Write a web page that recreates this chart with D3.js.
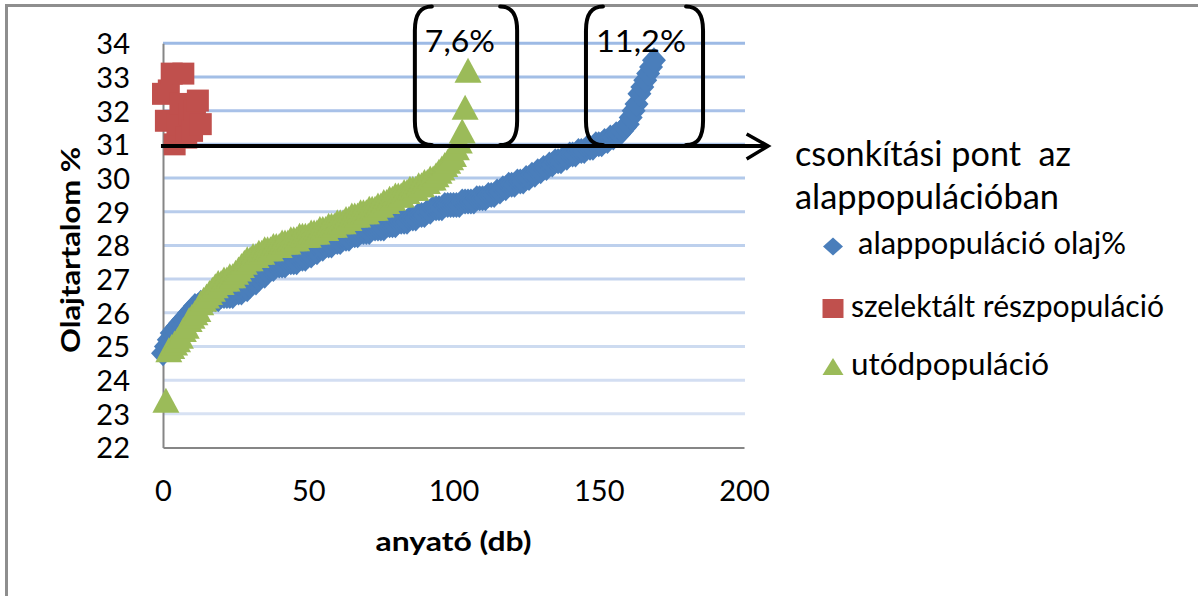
<!DOCTYPE html>
<html><head><meta charset="utf-8">
<script src="https://cdn.jsdelivr.net/npm/d3@7"></script>
<style>
body{margin:0;background:#fff}
svg{display:block}
text{font-family:Lato,"Open Sans",sans-serif;fill:#000}
</style>
</head><body>
<svg id="c" width="1198" height="596"></svg>
<script>
// ---- data ----
const yTicks = [22,23,24,25,26,27,28,29,30,31,32,33,34];
const xTicks = [0,50,100,150,200];
const seriesNames = ["alappopuláció olaj%","szelektált részpopuláció","utódpopuláció"];
const noteLines = ["csonkítási pont  az","alappopulációban"];
const bracketLabels = ["7,6%","11,2%"];
const truncationPoint = 30.95;
// alappopuláció olaj% (x = 0..169)
const blueValues = [
24.8,25.0,25.2,25.4,25.5,25.6,25.7,25.8,25.9,26.0,
26.1,26.2,26.2,26.3,26.3,26.3,26.4,26.4,26.4,26.4,
26.5,26.5,26.5,26.5,26.5,26.6,26.6,26.6,26.7,26.7,
26.8,26.9,26.9,27.0,27.1,27.1,27.2,27.3,27.3,27.4,
27.4,27.4,27.4,27.5,27.5,27.5,27.5,27.6,27.6,27.6,
27.7,27.7,27.8,27.8,27.9,27.9,28.0,28.0,28.0,28.1,
28.1,28.1,28.2,28.2,28.2,28.3,28.3,28.3,28.4,28.4,
28.4,28.4,28.5,28.5,28.5,28.5,28.5,28.6,28.6,28.6,
28.6,28.7,28.7,28.7,28.7,28.8,28.8,28.8,28.9,28.9,
28.9,29.0,29.0,29.1,29.1,29.1,29.1,29.2,29.2,29.2,
29.2,29.2,29.2,29.3,29.3,29.3,29.3,29.3,29.4,29.4,
29.4,29.4,29.5,29.5,29.5,29.6,29.6,29.7,29.7,29.8,
29.8,29.8,29.9,29.9,29.9,30.0,30.0,30.1,30.1,30.2,
30.2,30.3,30.3,30.4,30.4,30.5,30.5,30.5,30.6,30.6,
30.7,30.7,30.7,30.8,30.8,30.8,30.9,30.9,30.9,31.0,
31.0,31.0,31.1,31.1,31.2,31.2,31.3,31.3,31.4,31.5,
31.6,31.8,32.0,32.2,32.5,32.7,32.9,33.1,33.3,33.5];
// szelektált részpopuláció (x = 0..13)
const redValues = [32.5,31.7,32.6,33.1,31.0,31.6,32.2,33.1,31.2,31.9,31.4,32.0,32.3,31.6];
// utódpopuláció (x = 1..105)
const greenValues = [
23.4,24.9,25.0,25.1,25.2,25.3,25.5,25.6,25.8,25.9,
26.0,26.1,26.3,26.4,26.5,26.6,26.7,26.8,26.9,26.9,
27.0,27.0,27.1,27.1,27.2,27.3,27.4,27.5,27.6,27.6,
27.7,27.7,27.8,27.8,27.9,27.9,27.9,28.0,28.0,28.0,
28.1,28.1,28.1,28.2,28.2,28.2,28.3,28.3,28.3,28.3,
28.4,28.4,28.4,28.5,28.5,28.5,28.6,28.6,28.6,28.7,
28.7,28.7,28.8,28.8,28.9,28.9,28.9,29.0,29.0,29.0,
29.1,29.1,29.1,29.2,29.2,29.3,29.3,29.4,29.4,29.5,
29.5,29.5,29.6,29.6,29.7,29.7,29.7,29.8,29.8,29.9,
29.9,30.0,30.0,30.1,30.2,30.3,30.4,30.5,30.6,30.7,
30.9,31.1,31.4,32.1,33.2];

// ---- drawing ----
const svg = d3.select("#c");
const x = d3.scaleLinear().domain([0,200]).range([163,744]);
const y = d3.scaleLinear().domain([22,34]).range([447.5,43.3]);
const colors = {blue:"#4a7ebb", red:"#c0504d", green:"#9bbb59"};

// frame
svg.append("line").attr("x1",5).attr("x2",1198).attr("y1",5.5).attr("y2",5.5)
  .attr("stroke","#8e8e8e").attr("stroke-width",3);
svg.append("line").attr("x1",6.5).attr("x2",6.5).attr("y1",4).attr("y2",596)
  .attr("stroke","#8e8e8e").attr("stroke-width",3);

// gridlines
const gridCol = d3.scaleLinear().domain([34,23]).range(["#9dbae5","#d8e2f3"]);
svg.append("g").selectAll("line").data(yTicks.filter(d=>d>22)).join("line")
  .attr("x1",x(0)).attr("x2",x(200)+1)
  .attr("y1",d=>y(d)).attr("y2",d=>y(d))
  .attr("stroke",d=>gridCol(d)).attr("stroke-width",3);

// axes
const yAxis = svg.append("g").attr("transform",`translate(${x(0)},0)`)
  .call(d3.axisLeft(y).tickValues(yTicks).tickSize(0).tickSizeOuter(0).tickPadding(33));
const xAxis = svg.append("g").attr("transform",`translate(0,${y(22)})`)
  .call(d3.axisBottom(x).tickValues(xTicks).tickSize(0).tickSizeOuter(0));
[yAxis,xAxis].forEach(a=>{
  a.select(".domain").attr("stroke","#868686").attr("stroke-width",2);
  a.selectAll("text").style("font-family","Lato").style("font-size","29px").attr("fill","#000");
});
yAxis.selectAll("text").attr("dy","0.36em");
xAxis.selectAll("text").attr("dy",null).attr("y",53);

// axis titles
svg.append("text").attr("x",(x(0)+x(200))/2).attr("y",551).attr("text-anchor","middle")
  .style("font-weight","bold").style("font-size","27px")
  .attr("textLength",156).attr("lengthAdjust","spacingAndGlyphs").text("anyató (db)");
svg.append("text").attr("transform","translate(80,250) rotate(-90)").attr("text-anchor","middle")
  .style("font-weight","bold").style("font-size","26px")
  .attr("textLength",206).attr("lengthAdjust","spacingAndGlyphs").text("Olajtartalom %");

// marker shapes
const diamond = (w,h)=>`M0,${-h}L${w},0L0,${h}L${-w},0Z`;
const square = (w,h)=>`M${-w},${-h}H${w}V${h}H${-w}Z`;
const tri = (w,h)=>`M0,${-h}L${w},${h}L${-w},${h}Z`;

const gBlue = svg.append("g");
gBlue.selectAll("path").data(blueValues).join("path")
  .attr("transform",(d,i)=>`translate(${x(i)},${y(d)})`)
  .attr("d",diamond(12,13)).attr("fill",colors.blue);
const gRed = svg.append("g");
gRed.selectAll("path").data(redValues).join("path")
  .attr("transform",(d,i)=>`translate(${x(i)},${y(d)})`)
  .attr("d",square(11,11)).attr("fill",colors.red);
const gGreen = svg.append("g");
gGreen.selectAll("path").data(greenValues).join("path")
  .attr("transform",(d,i)=>`translate(${x(i+1)},${y(d)})`)
  .attr("d",tri(13.5,12.5)).attr("fill",colors.green);

// truncation arrow
const ty = y(truncationPoint);
const arrowEnd = x(208.3);
svg.append("line").attr("x1",x(-0.7)).attr("x2",arrowEnd).attr("y1",ty).attr("y2",ty)
  .attr("stroke","#000").attr("stroke-width",4);
svg.append("path").attr("d",`M${arrowEnd-21.5},${ty-12}L${arrowEnd},${ty}L${arrowEnd-21.5},${ty+13}`)
  .attr("fill","none").attr("stroke","#000").attr("stroke-width",3.5);

// brackets
const bTop = y(35.09), bBot = y(30.98);
const bracketSpans = [[86.7,121.9],[145.6,185.9]];
bracketSpans.forEach((s,k)=>{
  const xl = x(s[0]), xr = x(s[1]);
  const p = `M${xl+17},${bTop} C${xl+5},${bTop} ${xl},${bTop+8} ${xl},${bTop+24} L${xl},${bBot-24} C${xl},${bBot-8} ${xl+5},${bBot} ${xl+17},${bBot}`+
            `M${xr-17},${bTop} C${xr-5},${bTop} ${xr},${bTop+8} ${xr},${bTop+24} L${xr},${bBot-24} C${xr},${bBot-8} ${xr-5},${bBot} ${xr-17},${bBot}`;
  svg.append("path").attr("d",p).attr("fill","none").attr("stroke","#000").attr("stroke-width",4).attr("stroke-linecap","round");
  svg.append("text").attr("x",xl+10).attr("y",52).style("font-size","30px")
    .attr("textLength",k===0?70:90).attr("lengthAdjust","spacingAndGlyphs").text(bracketLabels[k]);
});

// note text
svg.append("text").attr("x",795).attr("y",166).style("font-size","35px").style("white-space","pre")
  .attr("textLength",276).attr("lengthAdjust","spacingAndGlyphs").text(noteLines[0]);
svg.append("text").attr("x",795).attr("y",209).style("font-size","35px")
  .attr("textLength",264).attr("lengthAdjust","spacingAndGlyphs").text(noteLines[1]);

// legend
const leg = [
  {shape:diamond(10,9), col:colors.blue, cy:246.5, tx:858, base:254, len:268, label:seriesNames[0]},
  {shape:square(10.5,9.5), col:colors.red, cy:308.5, tx:851, base:317, len:313, label:seriesNames[1]},
  {shape:tri(10.5,8.5), col:colors.green, cy:366.5, tx:851, base:375, len:198, label:seriesNames[2]}
];
leg.forEach(l=>{
  svg.append("path").attr("transform",`translate(833,${l.cy})`).attr("d",l.shape).attr("fill",l.col);
  svg.append("text").attr("x",l.tx).attr("y",l.base).style("font-size","30px")
    .attr("textLength",l.len).attr("lengthAdjust","spacingAndGlyphs").text(l.label);
});
</script>
</body></html>
